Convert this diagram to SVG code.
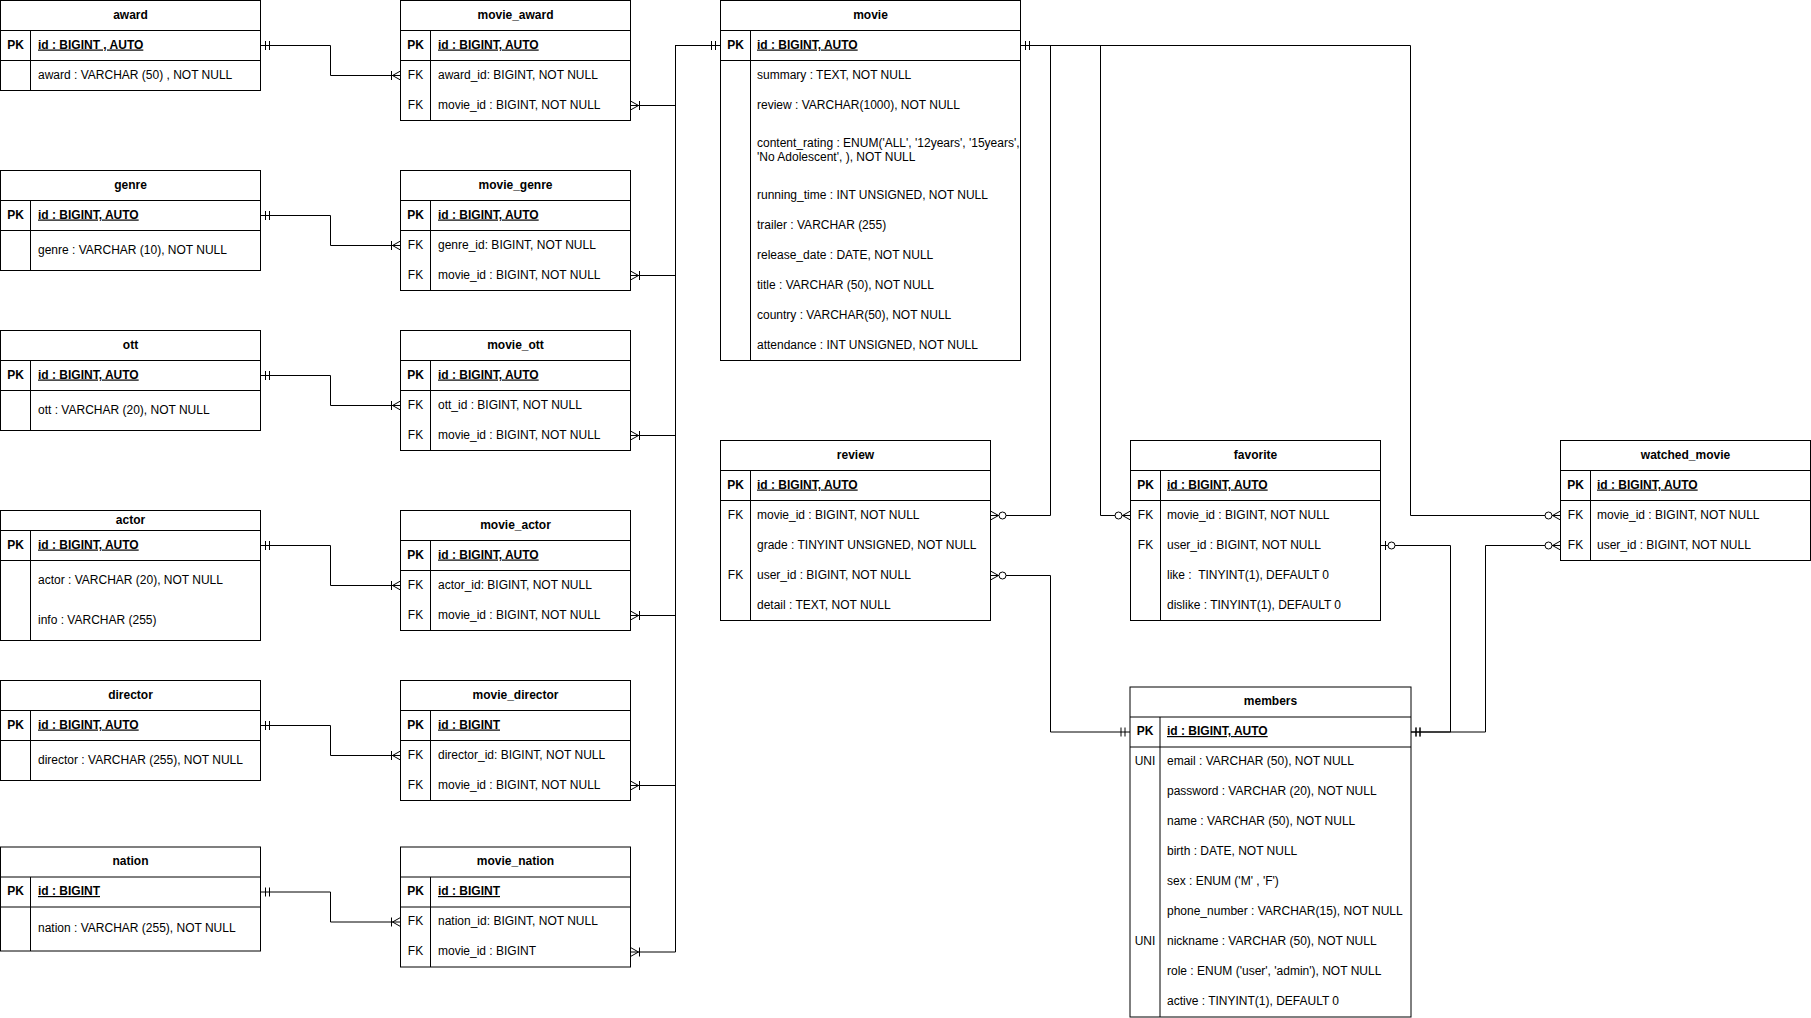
<svg xmlns="http://www.w3.org/2000/svg" width="1811" height="1018" viewBox="0 0 1811 1018">
<style>
text{font-family:"Liberation Sans",Arial,Helvetica,sans-serif;font-size:12px;fill:#000;transform:translate(0px,-1px)}
.box{fill:#fff;stroke:#000;stroke-width:1}
.ln{fill:none;stroke:#000;stroke-width:1}
.h{font-weight:bold;text-anchor:middle}
.k{text-anchor:middle}
.kb{font-weight:bold;text-anchor:middle}
.pk{font-weight:bold;text-decoration:underline}
.c{fill:none;stroke:#000;stroke-width:1}
.m{fill:none;stroke:#000;stroke-width:1}
.mc{fill:#fff;stroke:#000;stroke-width:1}
</style>
<defs>
<marker id="one" markerUnits="userSpaceOnUse" orient="auto-start-reverse" refX="0" refY="0" markerWidth="20" markerHeight="20" overflow="visible"><path class="m" d="M-5,-4.5V4.5M-9,-4.5V4.5"/></marker>
<marker id="oneMany" markerUnits="userSpaceOnUse" orient="auto-start-reverse" refX="0" refY="0" markerWidth="20" markerHeight="20" overflow="visible"><path class="m" d="M-9,-4.5V4.5M-8,0L0,-4.5M-8,0L0,4.5"/></marker>
<marker id="zeroMany" markerUnits="userSpaceOnUse" orient="auto-start-reverse" refX="0" refY="0" markerWidth="20" markerHeight="20" overflow="visible"><path class="m" d="M-8,0L0,-4.5M-8,0L0,4.5"/><circle class="mc" cx="-12" cy="0" r="3.5"/></marker>
<marker id="zeroOne" markerUnits="userSpaceOnUse" orient="auto-start-reverse" refX="0" refY="0" markerWidth="20" markerHeight="20" overflow="visible"><path class="m" d="M-5,-4.5V4.5"/><circle class="mc" cx="-11" cy="0" r="3.5"/></marker>
</defs>
<rect width="1811" height="1018" fill="#fff"/>

<g id="award">
<rect class="box" x="0.5" y="0.5" width="260" height="90"/>
<path class="ln" d="M0.5,30.5H260.5M0.5,60.5H260.5M30.5,30.5V90.5"/>
<text class="h" x="130.5" y="19.5">award</text>
<text class="kb" x="15.5" y="49.5">PK</text><text class="pk" x="38" y="49.5">id : BIGINT , AUTO</text>
<text x="38" y="79.5">award : VARCHAR (50) , NOT NULL</text>
</g>

<g id="genre">
<rect class="box" x="0.5" y="170.5" width="260" height="100"/>
<path class="ln" d="M0.5,200.5H260.5M0.5,230.5H260.5M30.5,200.5V270.5"/>
<text class="h" x="130.5" y="189.5">genre</text>
<text class="kb" x="15.5" y="219.5">PK</text><text class="pk" x="38" y="219.5">id : BIGINT, AUTO</text>
<text x="38" y="254.5">genre : VARCHAR (10), NOT NULL</text>
</g>

<g id="ott">
<rect class="box" x="0.5" y="330.5" width="260" height="100"/>
<path class="ln" d="M0.5,360.5H260.5M0.5,390.5H260.5M30.5,360.5V430.5"/>
<text class="h" x="130.5" y="349.5">ott</text>
<text class="kb" x="15.5" y="379.5">PK</text><text class="pk" x="38" y="379.5">id : BIGINT, AUTO</text>
<text x="38" y="414.5">ott : VARCHAR (20), NOT NULL</text>
</g>

<g id="actor">
<rect class="box" x="0.5" y="510.5" width="260" height="130"/>
<path class="ln" d="M0.5,530.5H260.5M0.5,560.5H260.5M30.5,530.5V640.5"/>
<text class="h" x="130.5" y="524.5">actor</text>
<text class="kb" x="15.5" y="549.5">PK</text><text class="pk" x="38" y="549.5">id : BIGINT, AUTO</text>
<text x="38" y="584.5">actor : VARCHAR (20), NOT NULL</text>
<text x="38" y="624.5">info : VARCHAR (255)</text>
</g>

<g id="director">
<rect class="box" x="0.5" y="680.5" width="260" height="100"/>
<path class="ln" d="M0.5,710.5H260.5M0.5,740.5H260.5M30.5,710.5V780.5"/>
<text class="h" x="130.5" y="699.5">director</text>
<text class="kb" x="15.5" y="729.5">PK</text><text class="pk" x="38" y="729.5">id : BIGINT, AUTO</text>
<text x="38" y="764.5">director : VARCHAR (255), NOT NULL</text>
</g>

<g id="nation">
<rect class="box" x="0.5" y="847" width="260" height="104"/>
<path class="ln" d="M0.5,877H260.5M0.5,907H260.5M30.5,877V951"/>
<text class="h" x="130.5" y="866">nation</text>
<text class="kb" x="15.5" y="896">PK</text><text class="pk" x="38" y="896">id : BIGINT</text>
<text x="38" y="933">nation : VARCHAR (255), NOT NULL</text>
</g>

<g id="movie_award">
<rect class="box" x="400.5" y="0.5" width="230" height="120"/>
<path class="ln" d="M400.5,30.5H630.5M400.5,60.5H630.5M430.5,30.5V120.5"/>
<text class="h" x="515.5" y="19.5">movie_award</text>
<text class="kb" x="415.5" y="49.5">PK</text><text class="pk" x="438" y="49.5">id : BIGINT, AUTO</text>
<text class="k" x="415.5" y="79.5">FK</text><text x="438" y="79.5">award_id: BIGINT, NOT NULL</text>
<text class="k" x="415.5" y="109.5">FK</text><text x="438" y="109.5">movie_id : BIGINT, NOT NULL</text>
</g>

<g id="movie_genre">
<rect class="box" x="400.5" y="170.5" width="230" height="120"/>
<path class="ln" d="M400.5,200.5H630.5M400.5,230.5H630.5M430.5,200.5V290.5"/>
<text class="h" x="515.5" y="189.5">movie_genre</text>
<text class="kb" x="415.5" y="219.5">PK</text><text class="pk" x="438" y="219.5">id : BIGINT, AUTO</text>
<text class="k" x="415.5" y="249.5">FK</text><text x="438" y="249.5">genre_id: BIGINT, NOT NULL</text>
<text class="k" x="415.5" y="279.5">FK</text><text x="438" y="279.5">movie_id : BIGINT, NOT NULL</text>
</g>

<g id="movie_ott">
<rect class="box" x="400.5" y="330.5" width="230" height="120"/>
<path class="ln" d="M400.5,360.5H630.5M400.5,390.5H630.5M430.5,360.5V450.5"/>
<text class="h" x="515.5" y="349.5">movie_ott</text>
<text class="kb" x="415.5" y="379.5">PK</text><text class="pk" x="438" y="379.5">id : BIGINT, AUTO</text>
<text class="k" x="415.5" y="409.5">FK</text><text x="438" y="409.5">ott_id : BIGINT, NOT NULL</text>
<text class="k" x="415.5" y="439.5">FK</text><text x="438" y="439.5">movie_id : BIGINT, NOT NULL</text>
</g>

<g id="movie_actor">
<rect class="box" x="400.5" y="510.5" width="230" height="120"/>
<path class="ln" d="M400.5,540.5H630.5M400.5,570.5H630.5M430.5,540.5V630.5"/>
<text class="h" x="515.5" y="529.5">movie_actor</text>
<text class="kb" x="415.5" y="559.5">PK</text><text class="pk" x="438" y="559.5">id : BIGINT, AUTO</text>
<text class="k" x="415.5" y="589.5">FK</text><text x="438" y="589.5">actor_id: BIGINT, NOT NULL</text>
<text class="k" x="415.5" y="619.5">FK</text><text x="438" y="619.5">movie_id : BIGINT, NOT NULL</text>
</g>

<g id="movie_director">
<rect class="box" x="400.5" y="680.5" width="230" height="120"/>
<path class="ln" d="M400.5,710.5H630.5M400.5,740.5H630.5M430.5,710.5V800.5"/>
<text class="h" x="515.5" y="699.5">movie_director</text>
<text class="kb" x="415.5" y="729.5">PK</text><text class="pk" x="438" y="729.5">id : BIGINT</text>
<text class="k" x="415.5" y="759.5">FK</text><text x="438" y="759.5">director_id: BIGINT, NOT NULL</text>
<text class="k" x="415.5" y="789.5">FK</text><text x="438" y="789.5">movie_id : BIGINT, NOT NULL</text>
</g>

<g id="movie_nation">
<rect class="box" x="400.5" y="847" width="230" height="120"/>
<path class="ln" d="M400.5,877H630.5M400.5,907H630.5M430.5,877V967"/>
<text class="h" x="515.5" y="866">movie_nation</text>
<text class="kb" x="415.5" y="896">PK</text><text class="pk" x="438" y="896">id : BIGINT</text>
<text class="k" x="415.5" y="926">FK</text><text x="438" y="926">nation_id: BIGINT, NOT NULL</text>
<text class="k" x="415.5" y="956">FK</text><text x="438" y="956">movie_id : BIGINT</text>
</g>

<g id="movie">
<rect class="box" x="720.5" y="0.5" width="300" height="360"/>
<path class="ln" d="M720.5,30.5H1020.5M720.5,60.5H1020.5M750.5,30.5V360.5"/>
<text class="h" x="870.5" y="19.5">movie</text>
<text class="kb" x="735.5" y="49.5">PK</text><text class="pk" x="757" y="49.5">id : BIGINT, AUTO</text>
<text x="757" y="79.5">summary : TEXT, NOT NULL</text>
<text x="757" y="109.5">review : VARCHAR(1000), NOT NULL</text>
<text x="757" y="147.5">content_rating : ENUM('ALL', '12years', '15years',</text>
<text x="757" y="161.5">'No Adolescent', ), NOT NULL</text>
<text x="757" y="199.5">running_time : INT UNSIGNED, NOT NULL</text>
<text x="757" y="229.5">trailer : VARCHAR (255)</text>
<text x="757" y="259.5">release_date : DATE, NOT NULL</text>
<text x="757" y="289.5">title : VARCHAR (50), NOT NULL</text>
<text x="757" y="319.5">country : VARCHAR(50), NOT NULL</text>
<text x="757" y="349.5">attendance : INT UNSIGNED, NOT NULL</text>
</g>

<g id="review">
<rect class="box" x="720.5" y="440.5" width="270" height="180"/>
<path class="ln" d="M720.5,470.5H990.5M720.5,500.5H990.5M750.5,470.5V620.5"/>
<text class="h" x="855.5" y="459.5">review</text>
<text class="kb" x="735.5" y="489.5">PK</text><text class="pk" x="757" y="489.5">id : BIGINT, AUTO</text>
<text class="k" x="735.5" y="519.5">FK</text><text x="757" y="519.5">movie_id : BIGINT, NOT NULL</text>
<text x="757" y="549.5">grade : TINYINT UNSIGNED, NOT NULL</text>
<text class="k" x="735.5" y="579.5">FK</text><text x="757" y="579.5">user_id : BIGINT, NOT NULL</text>
<text x="757" y="609.5">detail : TEXT, NOT NULL</text>
</g>

<g id="favorite">
<rect class="box" x="1130.5" y="440.5" width="250" height="180"/>
<path class="ln" d="M1130.5,470.5H1380.5M1130.5,500.5H1380.5M1160.5,470.5V620.5"/>
<text class="h" x="1255.5" y="459.5">favorite</text>
<text class="kb" x="1145.5" y="489.5">PK</text><text class="pk" x="1167" y="489.5">id : BIGINT, AUTO</text>
<text class="k" x="1145.5" y="519.5">FK</text><text x="1167" y="519.5">movie_id : BIGINT, NOT NULL</text>
<text class="k" x="1145.5" y="549.5">FK</text><text x="1167" y="549.5">user_id : BIGINT, NOT NULL</text>
<text x="1167" y="579.5" style="white-space:pre">like :  TINYINT(1), DEFAULT 0</text>
<text x="1167" y="609.5">dislike : TINYINT(1), DEFAULT 0</text>
</g>

<g id="watched_movie">
<rect class="box" x="1560.5" y="440.5" width="250" height="120"/>
<path class="ln" d="M1560.5,470.5H1810.5M1560.5,500.5H1810.5M1590.5,470.5V560.5"/>
<text class="h" x="1685.5" y="459.5">watched_movie</text>
<text class="kb" x="1575.5" y="489.5">PK</text><text class="pk" x="1597" y="489.5">id : BIGINT, AUTO</text>
<text class="k" x="1575.5" y="519.5">FK</text><text x="1597" y="519.5">movie_id : BIGINT, NOT NULL</text>
<text class="k" x="1575.5" y="549.5">FK</text><text x="1597" y="549.5">user_id : BIGINT, NOT NULL</text>
</g>

<g id="members">
<rect class="box" x="1130" y="687" width="281" height="330"/>
<path class="ln" d="M1130,717H1411M1130,747H1411M1160,717V1017"/>
<text class="h" x="1270.5" y="706">members</text>
<text class="kb" x="1145" y="736">PK</text><text class="pk" x="1167" y="736">id : BIGINT, AUTO</text>
<text class="k" x="1145" y="766">UNI</text><text x="1167" y="766">email : VARCHAR (50), NOT NULL</text>
<text x="1167" y="796">password : VARCHAR (20), NOT NULL</text>
<text x="1167" y="826">name : VARCHAR (50), NOT NULL</text>
<text x="1167" y="856">birth : DATE, NOT NULL</text>
<text x="1167" y="886">sex : ENUM ('M' , 'F')</text>
<text x="1167" y="916">phone_number : VARCHAR(15), NOT NULL</text>
<text class="k" x="1145" y="946">UNI</text><text x="1167" y="946">nickname : VARCHAR (50), NOT NULL</text>
<text x="1167" y="976">role : ENUM ('user', 'admin'), NOT NULL</text>
<text x="1167" y="1006">active : TINYINT(1), DEFAULT 0</text>
</g>

<g id="connectors">
<path class="c" d="M260.5,45.5H330.5V75.5H400.5" marker-start="url(#one)" marker-end="url(#oneMany)"/>
<path class="c" d="M260.5,215.5H330.5V245.5H400.5" marker-start="url(#one)" marker-end="url(#oneMany)"/>
<path class="c" d="M260.5,375.5H330.5V405.5H400.5" marker-start="url(#one)" marker-end="url(#oneMany)"/>
<path class="c" d="M260.5,545.5H330.5V585.5H400.5" marker-start="url(#one)" marker-end="url(#oneMany)"/>
<path class="c" d="M260.5,725.5H330.5V755.5H400.5" marker-start="url(#one)" marker-end="url(#oneMany)"/>
<path class="c" d="M260.5,892H330.5V922H400.5" marker-start="url(#one)" marker-end="url(#oneMany)"/>

<path class="c" d="M630.5,105.5H675.5V45.5H720.5" marker-start="url(#oneMany)" marker-end="url(#one)"/>
<path class="c" d="M630.5,275.5H675.5V45.5H720.5" marker-start="url(#oneMany)" marker-end="url(#one)"/>
<path class="c" d="M630.5,435.5H675.5V45.5H720.5" marker-start="url(#oneMany)" marker-end="url(#one)"/>
<path class="c" d="M630.5,615.5H675.5V45.5H720.5" marker-start="url(#oneMany)" marker-end="url(#one)"/>
<path class="c" d="M630.5,785.5H675.5V45.5H720.5" marker-start="url(#oneMany)" marker-end="url(#one)"/>
<path class="c" d="M630.5,952H675.5V45.5H720.5" marker-start="url(#oneMany)" marker-end="url(#one)"/>

<path class="c" d="M1020.5,45.5H1050.5V515.5H990.5" marker-start="url(#one)" marker-end="url(#zeroMany)"/>
<path class="c" d="M1020.5,45.5H1100.5V515.5H1130.5" marker-start="url(#one)" marker-end="url(#zeroMany)"/>
<path class="c" d="M1020.5,45.5H1410.5V515.5H1560.5" marker-start="url(#one)" marker-end="url(#zeroMany)"/>

<path class="c" d="M990.5,575.5H1050.5V732H1130" marker-start="url(#zeroMany)" marker-end="url(#one)"/>
<path class="c" d="M1380.5,545.5H1450.5V732H1411" marker-start="url(#zeroOne)" marker-end="url(#one)"/>
<path class="c" d="M1411,732H1485.5V545.5H1560.5" marker-start="url(#one)" marker-end="url(#zeroMany)"/>
</g>
</svg>
